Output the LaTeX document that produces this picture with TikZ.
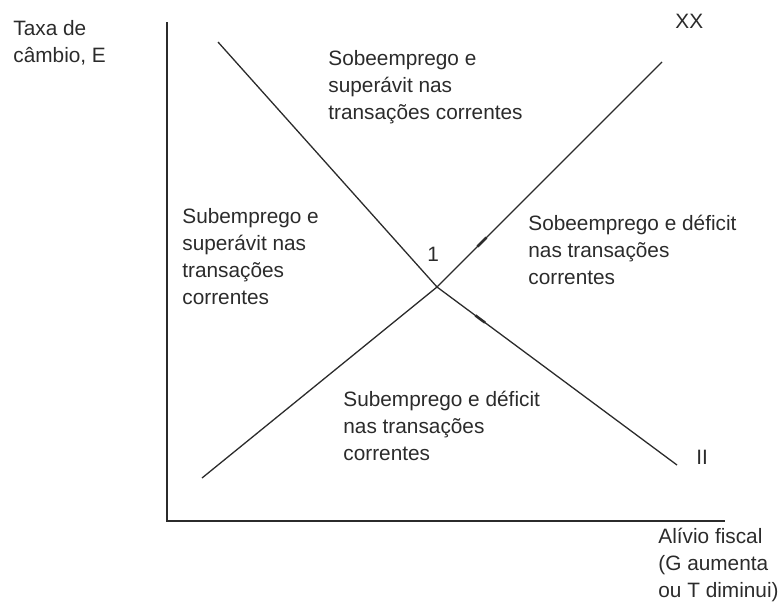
\documentclass[tikz,border=0pt]{standalone}
\usepackage{fontspec}
\setmainfont{Liberation Sans}
\usetikzlibrary{calc}
\definecolor{tinta}{HTML}{2B2B2B}
\tikzset{
regiao/.style={
	  anchor=north west, inner sep=0pt, align=left,
	    font=\fontsize{10.4}{13.5}\selectfont, text=tinta},
eixo/.style={draw=tinta, line width=0.8pt},
curva/.style={draw=tinta, line width=0.65pt},
marca/.style={draw=tinta, line width=1.3pt}
}

\begin{document}
\begin{tikzpicture}[x=0.5pt, y=-0.5pt]
	\useasboundingbox (0,0) rectangle (780,607);
	\coordinate (topo) at (167,22);
	\coordinate (origem) at (167,521);
	\coordinate (fim) at (725,521);
	\coordinate (eq) at (437,287);
	\coordinate (xx0) at (202,478);
	\coordinate (xx1) at (662,62);
	\coordinate (ii0) at (218,42);
	\coordinate (ii1) at (677,465);
	\draw[eixo] (topo) -- (origem) -- (fim);
	\draw[curva] (xx0) -- (eq) -- (xx1);
	\draw[curva] (ii0) -- (eq) -- (ii1);
	\draw[marca] ($(eq)!0.18!(xx1)$) -- ($(eq)!0.22!(xx1)$);
	\draw[marca] ($(eq)!0.16!(ii1)$) -- ($(eq)!0.20!(ii1)$);
	\node[regiao] (taxa) at (13,20) {Taxa de\\câmbio, E};
	\node[regiao] (alivio) at (658,528) {Alívio fiscal\\(G aumenta\\ou T diminui)};
	\node[regiao] (xx) at (675,14) {XX};
	\node[regiao] (ii) at (696,450) {II};
	\node[regiao] (um) at (427,247) {1};
	\node[regiao] (norte) at (328,50) {Sobeemprego e\\superávit nas\\transações correntes};
	\node[regiao] (oeste) at (182,208) {Subemprego e\\superávit nas\\transações\\correntes};
	\node[regiao] (leste) at (528,215) {Sobeemprego e déficit\\nas transações\\correntes};
	\node[regiao] (sul) at (343,391) {Subemprego e déficit\\nas transações\\correntes};
\end{tikzpicture}
\end{document}
